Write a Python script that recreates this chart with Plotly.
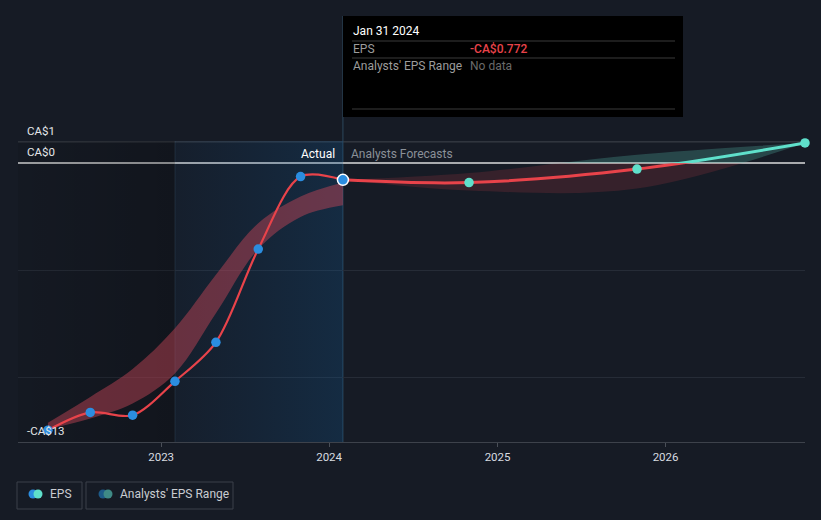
import plotly.graph_objects as go

# ---------------- data ----------------
eps_dates = ["2022-04-30", "2022-07-31", "2022-10-31", "2023-01-31",
             "2023-04-30", "2023-07-31", "2023-10-31", "2024-01-31"]
eps_values = [-12.45, -11.62, -11.75, -10.17, -8.35, -4.0, -0.62, -0.772]
past_range_low = [-12.4, -11.9, -11.2, -9.8, -7.0, -4.0, -2.5, -1.96]
past_range_high = [-12.1, -10.9, -9.6, -7.7, -5.2, -2.8, -1.55, -0.9]

fc_dates = ["2024-01-31", "2024-10-31", "2025-10-31", "2026-10-31"]
fc_values = [-0.772, -0.9, -0.27, 0.95]
fc_low = [-0.772, -1.27, -1.18, 0.95]
fc_high = [-0.772, -0.45, 0.40, 0.95]

year_ticks = ["2023-01-01", "2024-01-01", "2025-01-01", "2026-01-01"]
year_labels = ["2023", "2024", "2025", "2026"]
y_label_vals = [1, 0, -13]
y_label_text = ["CA$1", "CA$0", "-CA$13"]
grid_vals = [1, 0, -5, -10, -13]

x_start, x_end = "2022-02-24", "2026-10-31"
actual_start, actual_end = "2023-01-31", "2024-01-31"
Y_MIN, Y_MAX = -13, 1.04

# ---------------- geometry ----------------
W, H = 821, 520
ML, MR, MT, MB = 18, 16, 141, 78
PW, PH = W - ML - MR, H - MT - MB


def px(x):
    return (x - ML) / PW


def py(y):
    return (H - MB - y) / PH


d0 = (0 - Y_MIN) / (Y_MAX - Y_MIN)

BG = "#161b25"
RED = "#e8434a"
TEAL = "#5fe0cb"
BLUE = "#2b8de0"
FONT = "Roboto"

fig = go.Figure()

# shaded regions (main axis)
fig.add_trace(go.Scatter(
    x=[x_start, actual_start, actual_start, x_start, x_start],
    y=[Y_MIN, Y_MIN, Y_MAX, Y_MAX, Y_MIN], fill="toself", mode="none",
    fillgradient=dict(type="horizontal",
                      colorscale=[[0, "rgba(0,0,0,0.08)"], [1, "rgba(0,0,0,0.22)"]]),
    hoverinfo="skip", showlegend=False))
fig.add_trace(go.Scatter(
    x=[actual_start, actual_end, actual_end, actual_start, actual_start],
    y=[Y_MIN, Y_MIN, Y_MAX, Y_MAX, Y_MIN], fill="toself", mode="none",
    fillgradient=dict(type="horizontal",
                      colorscale=[[0, "rgba(16,80,140,0.07)"], [1, "rgba(16,90,150,0.26)"]]),
    hoverinfo="skip", showlegend=False))

# past analysts range band
fig.add_trace(go.Scatter(x=eps_dates, y=past_range_low, mode="lines",
                         line=dict(width=0, shape="spline", color="rgba(0,0,0,0)"),
                         hoverinfo="skip", showlegend=False))
fig.add_trace(go.Scatter(x=eps_dates, y=past_range_high, mode="lines", fill="tonexty",
                         fillcolor="rgba(205,70,88,0.45)",
                         line=dict(width=0, shape="spline", color="rgba(0,0,0,0)"),
                         hoverinfo="skip", showlegend=False))
# past EPS line
fig.add_trace(go.Scatter(x=eps_dates, y=eps_values, mode="lines",
                         line=dict(color=RED, width=2.2, shape="spline", smoothing=0.9),
                         hoverinfo="skip", showlegend=False))

# forecast band & line, red part (below zero) on y3
fig.add_trace(go.Scatter(x=fc_dates, y=fc_low, mode="lines", yaxis="y3",
                         line=dict(width=0, shape="spline", color="rgba(0,0,0,0)"),
                         hoverinfo="skip", showlegend=False))
fig.add_trace(go.Scatter(x=fc_dates, y=fc_high, mode="lines", yaxis="y3", fill="tonexty",
                         fillcolor="rgba(200,60,72,0.18)",
                         line=dict(width=0, shape="spline", color="rgba(0,0,0,0)"),
                         hoverinfo="skip", showlegend=False))
fig.add_trace(go.Scatter(x=fc_dates, y=fc_values, mode="lines", yaxis="y3",
                         line=dict(color=RED, width=3, shape="spline"),
                         hoverinfo="skip", showlegend=False))
# teal part (above zero) on y2
fig.add_trace(go.Scatter(x=fc_dates, y=fc_low, mode="lines", yaxis="y2",
                         line=dict(width=0, shape="spline", color="rgba(0,0,0,0)"),
                         hoverinfo="skip", showlegend=False))
fig.add_trace(go.Scatter(x=fc_dates, y=fc_high, mode="lines", yaxis="y2", fill="tonexty",
                         fillcolor="rgba(90,200,185,0.25)",
                         line=dict(width=0, shape="spline", color="rgba(0,0,0,0)"),
                         hoverinfo="skip", showlegend=False))
fig.add_trace(go.Scatter(x=fc_dates, y=fc_values, mode="lines", yaxis="y2",
                         line=dict(color=TEAL, width=3, shape="spline"),
                         hoverinfo="skip", showlegend=False))

# markers on top (y4)
fig.add_trace(go.Scatter(x=eps_dates[:-1], y=eps_values[:-1], mode="markers", yaxis="y4",
                         marker=dict(color=BLUE, size=9.5), cliponaxis=False,
                         hoverinfo="skip", showlegend=False))
fig.add_trace(go.Scatter(x=eps_dates[-1:], y=eps_values[-1:], mode="markers", yaxis="y4",
                         marker=dict(color=BLUE, size=11, line=dict(color="white", width=1.5)),
                         cliponaxis=False, hoverinfo="skip", showlegend=False))
fig.add_trace(go.Scatter(x=fc_dates[1:], y=fc_values[1:], mode="markers", yaxis="y4",
                         marker=dict(color=TEAL, size=9.5), cliponaxis=False,
                         hoverinfo="skip", showlegend=False))

shapes = [
    # top gridline
    dict(type="line", xref="paper", yref="y", x0=0, x1=1, y0=1, y1=1,
         line=dict(color="#40454e", width=1), layer="between"),
    # actual period boundary
    dict(type="line", xref="x", yref="paper", x0=actual_start, x1=actual_start, y0=0, y1=1,
         line=dict(color="rgba(90,130,160,0.22)", width=1), layer="between"),
    # hover line
    dict(type="line", xref="x", yref="paper", x0=actual_end, x1=actual_end, y0=0, y1=py(16),
         line=dict(color="#2c485d", width=1), layer="between"),
    # tooltip box
    dict(type="rect", xref="paper", yref="paper", x0=px(343), x1=px(683), y0=py(117), y1=py(16),
         fillcolor="#000000", line=dict(width=0), layer="above"),
]
for yy in (41, 58, 109):
    shapes.append(dict(type="line", xref="paper", yref="paper", x0=px(352), x1=px(675),
                       y0=py(yy), y1=py(yy), line=dict(color="#3a3a3a", width=1), layer="above"))

# legend boxes
for x0, x1 in ((17, 82), (86, 233)):
    shapes.append(dict(type="rect", xref="paper", yref="paper", x0=px(x0), x1=px(x1),
                       y0=py(509), y1=py(482), line=dict(color="#3b404a", width=1),
                       fillcolor="rgba(0,0,0,0)", layer="above"))
for cx, col in ((33, BLUE), (38, TEAL), (103, "#1d5a88"), (108, "#3f8a86")):
    shapes.append(dict(type="circle", xref="paper", yref="paper", xsizemode="pixel",
                       ysizemode="pixel", xanchor=px(cx), yanchor=py(494),
                       x0=-4.5, x1=4.5, y0=-4.5, y1=4.5, fillcolor=col,
                       line=dict(width=0), layer="above"))

annotations = []
for v, t in zip(y_label_vals, y_label_text):
    annotations.append(dict(xref="paper", yref="y", x=px(25), y=v, xanchor="left",
                            yanchor="bottom", yshift=2, text=t, showarrow=False,
                            font=dict(family=FONT, size=11.5, color="#e4e6e9")))
annotations += [
    dict(xref="x", yref="paper", x=actual_end, y=py(154), xanchor="right", yanchor="middle",
         xshift=-6, text="Actual", showarrow=False,
         font=dict(family=FONT, size=12, color="#ffffff")),
    dict(xref="x", yref="paper", x=actual_end, y=py(154), xanchor="left", yanchor="middle",
         xshift=6, text="Analysts Forecasts", showarrow=False,
         font=dict(family=FONT, size=12, color="#8a9098")),
    dict(xref="paper", yref="paper", x=px(351), y=py(31), xanchor="left", yanchor="middle",
         text="Jan 31 2024", showarrow=False,
         font=dict(family=FONT, size=12, color="#ffffff")),
    dict(xref="paper", yref="paper", x=px(351), y=py(49), xanchor="left", yanchor="middle",
         text="EPS", showarrow=False, font=dict(family=FONT, size=12, color="#9c9c9c")),
    dict(xref="paper", yref="paper", x=px(468), y=py(49), xanchor="left", yanchor="middle",
         text="-CA$0.772", showarrow=False,
         font=dict(family=FONT, size=12, color=RED, weight=500)),
    dict(xref="paper", yref="paper", x=px(351), y=py(66), xanchor="left", yanchor="middle",
         text="Analysts' EPS Range", showarrow=False,
         font=dict(family=FONT, size=12, color="#9c9c9c")),
    dict(xref="paper", yref="paper", x=px(468), y=py(66), xanchor="left", yanchor="middle",
         text="No data", showarrow=False, font=dict(family=FONT, size=12, color="#6a6a6a")),
    dict(xref="paper", yref="paper", x=px(48), y=py(494), xanchor="left", yanchor="middle",
         text="EPS", showarrow=False, font=dict(family=FONT, size=12, color="#c9ccd1")),
    dict(xref="paper", yref="paper", x=px(118), y=py(494), xanchor="left", yanchor="middle",
         text="Analysts' EPS Range", showarrow=False,
         font=dict(family=FONT, size=12, color="#c9ccd1")),
]

hidden = dict(visible=False, showgrid=False, zeroline=False, anchor="x", fixedrange=True)
fig.update_layout(
    width=W, height=H,
    margin=dict(l=ML, r=MR, t=MT, b=MB, pad=0),
    paper_bgcolor=BG, plot_bgcolor="rgba(0,0,0,0)",
    font=dict(family=FONT, color="#d6d9de"),
    showlegend=False,
    xaxis=dict(range=[x_start, x_end], type="date", tickvals=year_ticks, ticktext=year_labels,
               showgrid=False, zeroline=False, showline=True, linecolor="#3d424b", linewidth=1,
               ticks="outside", ticklen=4, tickcolor="#4a4f58",
               tickfont=dict(family=FONT, size=11.5, color="#d8dbe0"), anchor="y"),
    yaxis=dict(range=[Y_MIN, Y_MAX], domain=[0, 1], tickvals=grid_vals, showticklabels=False,
               showgrid=True, gridcolor="#262c37", gridwidth=1,
               zeroline=True, zerolinecolor="#a9abae", zerolinewidth=2, showline=False),
    yaxis2=dict(range=[0, Y_MAX], domain=[d0, 1], **hidden),
    yaxis3=dict(range=[Y_MIN, 0], domain=[0, d0], **hidden),
    yaxis4=dict(range=[Y_MIN, Y_MAX], domain=[0, 1], **hidden),
    shapes=shapes,
    annotations=annotations,
)

fig.write_html(
    "out.html",
    config={"displayModeBar": False},
    post_script="document.body.style.margin='0';document.body.style.background='" + BG + "';",
)
